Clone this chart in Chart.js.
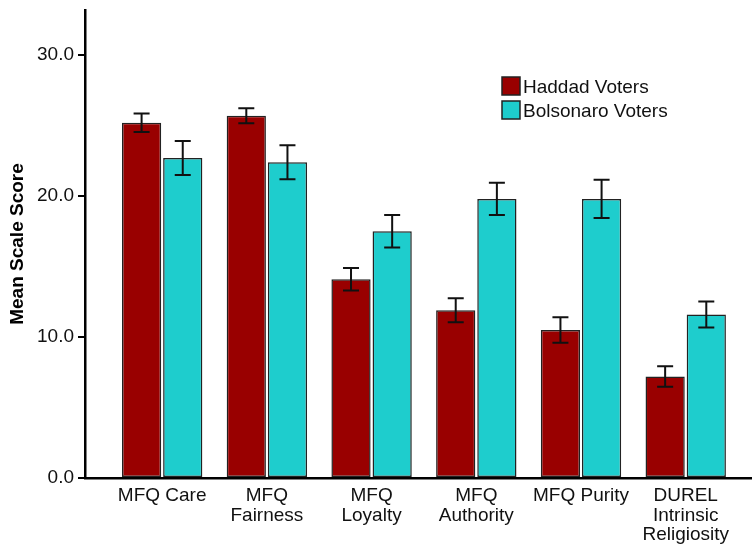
<!DOCTYPE html>
<html>
<head>
<meta charset="utf-8">
<script src="https://cdn.jsdelivr.net/npm/chart.js@4.4.0/dist/chart.umd.min.js"></script>
<style>
  html, body { margin: 0; padding: 0; background: #fff; }
  #wrap { width: 752px; height: 545px; }
</style>
</head>
<body>
<div id="wrap"><canvas id="chart" width="752" height="545"></canvas></div>
<script>
const categories = [
    ['MFQ Care'],
    ['MFQ', 'Fairness'],
    ['MFQ', 'Loyalty'],
    ['MFQ', 'Authority'],
    ['MFQ Purity'],
    ['DUREL', 'Intrinsic', 'Religiosity']
];
const seriesNames = ['Haddad Voters', 'Bolsonaro Voters'];
const haddad = [25.2, 25.7, 14.1, 11.9, 10.5, 7.2];
const haddadErr = [0.65, 0.53, 0.8, 0.85, 0.9, 0.72];
const bolsonaro = [22.7, 22.4, 17.5, 19.8, 19.8, 11.6];
const bolsonaroErr = [1.2, 1.2, 1.15, 1.15, 1.35, 0.92];
const yTicks = [0, 10, 20, 30];

const errors = [haddadErr, bolsonaroErr];
const values = [haddad, bolsonaro];

const errorBars = {
    id: 'errorBars',
    afterDatasetsDraw(chart) {
        const ctx = chart.ctx;
        const y = chart.scales.y;
        ctx.save();
        ctx.strokeStyle = '#111';
        ctx.lineWidth = 2;
        chart.data.datasets.forEach((ds, d) => {
            const meta = chart.getDatasetMeta(d);
            meta.data.forEach((bar, i) => {
                const v = values[d][i];
                const e = errors[d][i];
                const top = y.getPixelForValue(v + e);
                const bot = y.getPixelForValue(v - e);
                ctx.beginPath();
                ctx.moveTo(bar.x, top); ctx.lineTo(bar.x, bot);
                ctx.moveTo(bar.x - 8, top); ctx.lineTo(bar.x + 8, top);
                ctx.moveTo(bar.x - 8, bot); ctx.lineTo(bar.x + 8, bot);
                ctx.stroke();
            });
        });
        ctx.restore();
    }
};

const legendBoxes = {
    id: 'legendBoxes',
    afterDraw(chart) {
        const ctx = chart.ctx;
        ctx.save();
        ctx.font = '19px "Liberation Sans", Arial, sans-serif';
        ctx.textBaseline = 'middle';
        chart.data.datasets.forEach((ds, d) => {
            const bx = 502, by = 77 + d * 24;
            ctx.fillStyle = ds.backgroundColor;
            ctx.fillRect(bx, by, 18, 18);
            ctx.strokeStyle = '#222';
            ctx.lineWidth = 1.5;
            ctx.strokeRect(bx, by, 18, 18);
            ctx.fillStyle = '#111';
            ctx.fillText(ds.label, 523, by + 11);
        });
        ctx.restore();
    }
};

new Chart(document.getElementById('chart'), {
    type: 'bar',
    data: {
        datasets: [
            {
                label: seriesNames[0],
                data: haddad.map((v, i) => ({ x: i, y: v })),
                backgroundColor: '#990000',
                borderColor: '#222',
                borderWidth: 1.5,
                borderSkipped: false
            },
            {
                label: seriesNames[1],
                data: bolsonaro.map((v, i) => ({ x: i, y: v })),
                backgroundColor: '#1ecdcd',
                borderColor: '#222',
                borderWidth: 1.5,
                borderSkipped: false
            }
        ]
    },
    options: {
        responsive: false,
        devicePixelRatio: 1,
        animation: false,
        categoryPercentage: 0.786,
        barPercentage: 0.953,
        layout: { padding: { top: 10, right: 0, left: 0, bottom: 0 } },
        plugins: { legend: { display: false }, tooltip: { enabled: false } },
        scales: {
            x: {
                type: 'linear',
                offset: false,
                min: -0.737,
                max: 5.633,
                afterFit: (s) => { s.height = 67; },
                grid: { display: false, drawTicks: false },
                border: { display: true, color: '#000', width: 2.5 },
                ticks: {
                    stepSize: 1,
                    includeBounds: false,
                    autoSkip: false,
                    maxRotation: 0,
                    padding: 8,
                    color: '#111',
                    font: { family: '"Liberation Sans", Arial, sans-serif', size: 19, lineHeight: 1.03 },
                    callback: (v) => Number.isInteger(v) && categories[v] ? categories[v] : ''
                }
            },
            y: {
                min: 0,
                max: 33.2,
                afterFit: (s) => { s.width = 85; s.paddingTop = 0; },
                afterBuildTicks: (s) => { s.ticks = yTicks.map(v => ({ value: v })); },
                grid: { display: true, drawOnChartArea: false, drawTicks: true, tickLength: 7, color: '#000', lineWidth: 2 },
                border: { display: true, color: '#000', width: 2.5 },
                ticks: {
                    padding: 4,
                    color: '#111',
                    font: { family: '"Liberation Sans", Arial, sans-serif', size: 19 },
                    callback: (v) => v.toFixed(1)
                },
                title: {
                    display: true,
                    text: 'Mean Scale Score',
                    color: '#000',
                    padding: { top: 6, bottom: 0 },
                    font: { family: '"Liberation Sans", Arial, sans-serif', size: 19, weight: 'bold' }
                }
            }
        }
    },
    plugins: [errorBars, legendBoxes]
});
</script>
</body>
</html>
